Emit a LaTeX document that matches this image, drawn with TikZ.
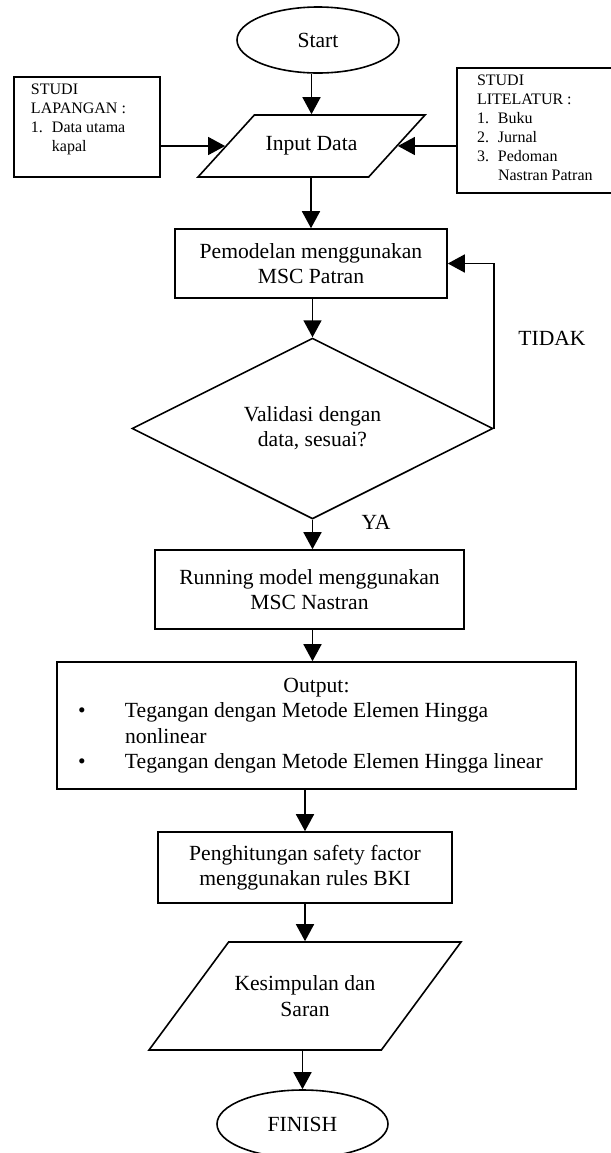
\documentclass[tikz,border=0pt]{standalone}
\usepackage{fontspec}
\setmainfont{Liberation Serif}
\usetikzlibrary{shapes.geometric,arrows.meta}
\newcommand{\numline}[2]{\makebox[10.5pt][l]{#1}#2}

\begin{document}
\begin{tikzpicture}[x=0.5pt,y=-0.5pt,
  font=\fontsize{10.8}{12.6}\selectfont,
  line width=0.8pt,
  flow/.style={-{Triangle[length=8.5pt,width=9pt]}},
  procbox/.style={draw,rectangle,inner sep=0pt,align=center},
  sidebox/.style={draw,rectangle,inner sep=0pt,font=\fontsize{8}{9.5}\selectfont},
  ioshape/.style={draw,trapezium,trapezium stretches body=true,inner sep=0pt,align=center},
  termshape/.style={draw,ellipse,inner sep=0pt},
  decision/.style={draw,diamond,inner sep=0pt,align=center}]
\useasboundingbox (0,0) rectangle (611,1153);

\node[termshape,minimum width=81pt,minimum height=33pt] (start) at (318,40) {Start};
\node[ioshape,trapezium left angle=18.4,trapezium right angle=161.6,minimum width=113.5pt,minimum height=31pt] (input) at (311.5,146) {Input Data};
\node[sidebox,minimum width=73pt,minimum height=50pt] (lapangan) at (87,127)
  {\parbox[c][50pt][t]{56pt}{\vspace*{3.5pt}STUDI\\LAPANGAN :\\\numline{1.}{Data utama}\\\hspace*{10.5pt}kapal}};
\node[sidebox,minimum width=78.5pt,minimum height=62.5pt] (literatur) at (535.5,130.5)
  {\parbox[c][62.5pt][t]{58.5pt}{\vspace*{3.5pt}STUDI\\LITELATUR :\\\numline{1.}{Buku}\\\numline{2.}{Jurnal}\\\numline{3.}{Pedoman}\\\hspace*{10.5pt}Nastran Patran}};
\node[procbox,minimum width=136pt,minimum height=34.5pt] (model) at (311,263.5) {Pemodelan menggunakan\\MSC Patran};
\node[decision,minimum width=180.5pt,minimum height=78.5pt] (valid) at (312.5,428.5) {Validasi dengan\\data, sesuai?};
\node[procbox,minimum width=154.5pt,minimum height=39.5pt] (running) at (309.5,589.5) {Running model menggunakan\\MSC Nastran};
\node[procbox,minimum width=259.5pt,minimum height=63.5pt] (output) at (316.5,725.5)
  {\begin{tabular}{@{}p{34pt}@{}p{225.5pt}@{}}
   \multicolumn{2}{c}{Output:}\\
   \hspace*{10.6pt}\textbullet & Tegangan dengan Metode Elemen Hingga\\
   & nonlinear\\
   \hspace*{10.6pt}\textbullet & Tegangan dengan Metode Elemen Hingga linear
   \end{tabular}};
\node[procbox,minimum width=147pt,minimum height=35.5pt] (hitung) at (305,867.5) {Penghitungan safety factor\\menggunakan rules BKI};
\node[ioshape,trapezium left angle=26.9,trapezium right angle=153.1,minimum width=156pt,minimum height=54pt] (kesimpulan) at (305,996) {Kesimpulan dan\\Saran};
\node[termshape,minimum width=85.5pt,minimum height=34pt] (finish) at (302.5,1124) {FINISH};

\node (tidak) at (552,338) {TIDAK};
\node (ya) at (376,522) {YA};

% alur utama
\draw[flow] (start.south -| input.north) -- (input.north);
\draw[flow] (lapangan.east |- input.west) -- (input.west);
\draw[flow] (literatur.west |- input.east) -- (input.east);
\draw[flow] (input.south -| model.north) -- (model.north);
\draw[flow] (model.south -| valid.north) -- (valid.north);
\draw[flow] (valid.east) |- (model.east);
\draw[flow] (valid.south) -- (valid.south |- running.north);
\draw[flow] (running.south -| valid.south) -- (valid.south |- output.north);
\draw[flow] (output.south -| hitung.north) -- (hitung.north);
\draw[flow] (hitung.south) -- (kesimpulan.north);
\draw[flow] (kesimpulan.south -| finish.north) -- (finish.north);
\end{tikzpicture}
\end{document}
